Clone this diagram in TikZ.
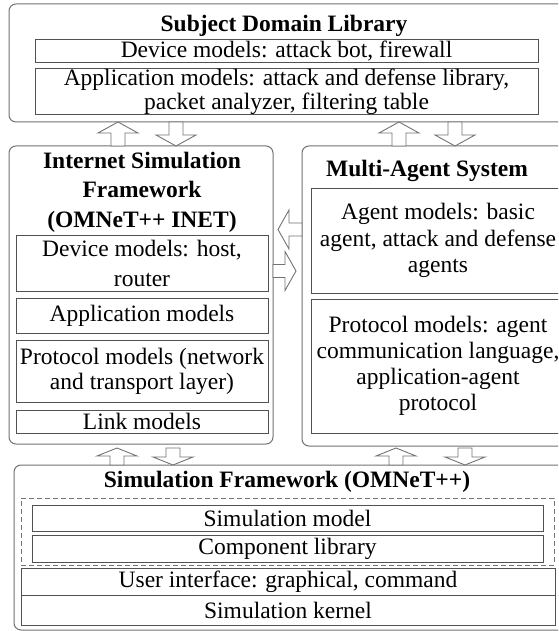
\documentclass[tikz,border=0pt]{standalone}
\usepackage{fontspec}
\setmainfont{Liberation Serif}
\tikzset{
  outerbox/.style={draw=black!55, line width=1pt, rounded corners=7pt, inner sep=0pt},
  innerbox/.style={draw=black!68, line width=1pt, inner sep=0pt, align=center,
                   font=\fontsize{23.5}{25}\selectfont},
  dashbox/.style={draw=black!55, line width=1pt, inner sep=0pt, dash pattern=on 5pt off 3pt},
  titletext/.style={font=\bfseries\fontsize{23.5}{29.5}\selectfont, anchor=base, align=center, inner sep=0pt},
  blk/.style={draw=black!55, line width=0.9pt, fill=white, line join=miter},
}
% box node from corners: style, name, x1, y1, x2, y2, text
\newcommand\bx[7]{\node[#1, minimum width={(#5-#3)*1pt}, minimum height={(#6-#4)*1pt}]
  (#2) at ({(#3+#5)/2},{(#4+#6)/2}) {#7};}
% block arrows: up/down (x, y1 top, y2 bottom, head length); left/right (y, x1 left, x2 right, head length)
\newcommand\blkup[4]{\draw[blk] (#1,#2) -- (#1+20,#2+#4) -- (#1+7,#2+#4) -- (#1+7,#3) -- (#1-7,#3) -- (#1-7,#2+#4) -- (#1-20,#2+#4) -- cycle;}
\newcommand\blkdown[4]{\draw[blk] (#1-7,#2) -- (#1+7,#2) -- (#1+7,#3-#4) -- (#1+20,#3-#4) -- (#1,#3) -- (#1-20,#3-#4) -- (#1-7,#3-#4) -- cycle;}
\newcommand\blkleft[4]{\draw[blk] (#2,#1) -- (#2+#4,#1-19.5) -- (#2+#4,#1-6.5) -- (#3,#1-6.5) -- (#3,#1+6.5) -- (#2+#4,#1+6.5) -- (#2+#4,#1+19.5) -- cycle;}
\newcommand\blkright[4]{\draw[blk] (#2,#1-6.5) -- (#3-#4,#1-6.5) -- (#3-#4,#1-19.5) -- (#3,#1) -- (#3-#4,#1+19.5) -- (#3-#4,#1+6.5) -- (#2,#1+6.5) -- cycle;}
\begin{document}
\begin{tikzpicture}[x=1pt,y=-1pt]
\clip (0,0) rectangle (558,631);
\fill[white] (0,0) rectangle (558,631);

% ---- Subject Domain Library
\bx{outerbox}{sdl}{9}{4}{590}{122}{}
\node[titletext] (sdlT) at (284,32) {Subject Domain Library};
\bx{innerbox}{sdlDev}{35}{40}{538}{63}{Device models: attack bot, firewall}
\bx{innerbox, font=\fontsize{23.5}{24}\selectfont}{sdlApp}{35}{69}{538}{114}
  {Application models: attack and defense library,\\packet analyzer, filtering table}

% ---- Internet Simulation Framework
\bx{outerbox}{isf}{9}{146}{273}{444}{}
\node[titletext] (isfT) at (142,227) {Internet Simulation\\Framework\\(OMNeT++ INET)};
\bx{innerbox, font=\fontsize{23.5}{30}\selectfont}{isfDev}{16}{235}{268}{291}{Device models: host,\\router}
\bx{innerbox}{isfApp}{16}{298}{268}{333}{Application models}
\bx{innerbox}{isfProt}{16}{340}{268}{402}{Protocol models (network\\and transport layer)}
\bx{innerbox}{isfLink}{16}{410}{268}{433}{Link models}

% ---- Multi-Agent System
\bx{outerbox}{mas}{302}{146}{590}{446}{}
\node[titletext] (masT) at (427,176) {Multi-Agent System};
\bx{innerbox, font=\fontsize{23.5}{26.5}\selectfont}{masAg}{311}{188}{565}{293}
  {Agent models: basic\\agent, attack and defense\\agents}
\bx{innerbox, font=\fontsize{23.5}{26}\selectfont}{masProt}{311}{299}{565}{433}
  {Protocol models: agent\\communication language,\\application-agent\\protocol}

% ---- Simulation Framework
\bx{outerbox}{sf}{14}{465}{590}{630}{}
\node[titletext] (sfT) at (287,487) {Simulation Framework (OMNeT++)};
\bx{dashbox}{sfDash}{21}{498}{554}{565}{}
\bx{innerbox}{sfModel}{32}{505}{543}{531}{Simulation model}
\bx{innerbox}{sfComp}{32}{535}{543}{562}{Component library}
\bx{innerbox}{sfUI}{21}{568}{555}{595}{User interface: graphical, command}
\bx{innerbox}{sfKern}{21}{595}{555}{625}{Simulation kernel}

% ---- block arrows
\blkup{118}{122}{146}{11}
\blkdown{176}{122}{146}{11}
\blkup{399}{122}{146}{11}
\blkdown{455}{122}{146}{11}

\blkleft{229.5}{278}{302}{11}
\blkright{271}{273}{296}{11}

\blkup{117}{448}{465}{8}
\blkdown{173}{448}{465}{8}
\blkup{396}{448}{465}{8}
\blkdown{465}{448}{465}{8}
\end{tikzpicture}
\end{document}
